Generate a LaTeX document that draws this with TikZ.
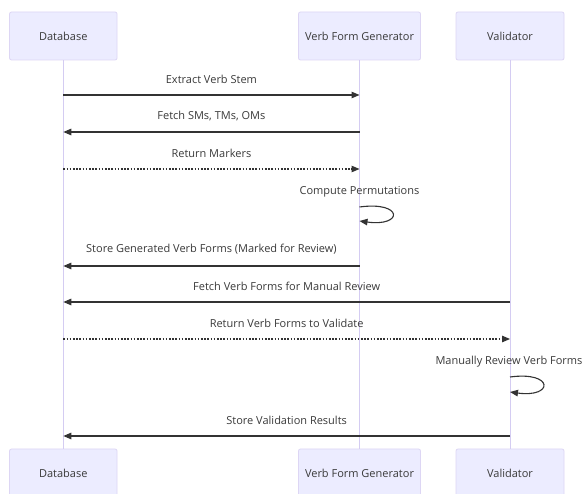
\documentclass[tikz,border=0pt]{standalone}
\usepackage{fontspec}
\setmainfont{Open Sans}
\usetikzlibrary{arrows.meta}
\definecolor{actfill}{HTML}{ECECFF}
\definecolor{actborder}{HTML}{DDD6F4}
\definecolor{lifeline}{HTML}{D4CCF2}
\definecolor{msgcol}{HTML}{333333}
\definecolor{txtcol}{HTML}{3A3A3A}
\tikzset{
  actor/.style={draw=actborder, fill=actfill, rounded corners=2pt, line width=0.8pt,
    minimum height=48pt, inner sep=0pt, font=\fontsize{11}{13}\selectfont, text=txtcol},
  life/.style={draw=lifeline, line width=1pt},
  msg/.style={draw=msgcol, line width=1.1pt, -{Triangle[length=8pt,width=6.5pt]}},
  reply/.style={msg, dash pattern=on 1.6pt off 1.6pt},
  lbl/.style={font=\fontsize{11}{13}\selectfont, text=txtcol, inner sep=0pt}
}
\begin{document}
\begin{tikzpicture}[x=1pt,y=-1pt]
\clip (0,0) rectangle (582,494);
\fill[white] (0,0) rectangle (582,494);
% actors top
\node[actor, minimum width=107.5pt] (dbT) at (63.3,36) {Database};
\node[actor, minimum width=122pt] (genT) at (359.5,36) {Verb Form Generator};
\node[actor, minimum width=108pt] (valT) at (510,36) {Validator};
% actors bottom
\node[actor, minimum width=107.5pt] (dbB) at (63.3,473) {Database};
\node[actor, minimum width=122pt] (genB) at (359.5,473) {Verb Form Generator};
\node[actor, minimum width=108pt] (valB) at (510,473) {Validator};
% lifelines
\draw[life] (dbT) -- (dbB);
\draw[life] (genT) -- (genB);
\draw[life] (valT) -- (valB);
% message rows
\coordinate (m1) at (0,95);
\coordinate (m2) at (0,132);
\coordinate (m3) at (0,169);
\coordinate (m4a) at (0,207);
\coordinate (m4b) at (0,221);
\coordinate (m5) at (0,266);
\coordinate (m6) at (0,302);
\coordinate (m7) at (0,339);
\coordinate (m8a) at (0,377);
\coordinate (m8b) at (0,392);
\coordinate (m9) at (0,436);
% messages
\draw[msg] (dbT |- m1) -- node[lbl, above=11pt] {Extract Verb Stem} (genT |- m1);
\draw[msg] (genT |- m2) -- node[lbl, above=11pt] {Fetch SMs, TMs, OMs} (dbT |- m2);
\draw[reply] (dbT |- m3) -- node[lbl, above=11pt] {Return Markers} (genT |- m3);
\draw[msg] (genT |- m4a) .. controls +(44,-6) and +(44,6) .. (genT |- m4b);
\node[lbl] (l4) at (359.5,192) {Compute Permutations};
\draw[msg] (genT |- m5) -- node[lbl, above=11pt] {Store Generated Verb Forms (Marked for Review)} (dbT |- m5);
\draw[msg] (valT |- m6) -- node[lbl, above=11pt] {Fetch Verb Forms for Manual Review} (dbT |- m6);
\draw[reply] (dbT |- m7) -- node[lbl, above=11pt] {Return Verb Forms to Validate} (valT |- m7);
\draw[msg] (valT |- m8a) .. controls +(44,-6) and +(44,6) .. (valT |- m8b);
\node[lbl] (l8) at (509,362) {Manually Review Verb Forms};
\draw[msg] (valT |- m9) -- node[lbl, above=11pt] {Store Validation Results} (dbT |- m9);
\end{tikzpicture}
\end{document}
